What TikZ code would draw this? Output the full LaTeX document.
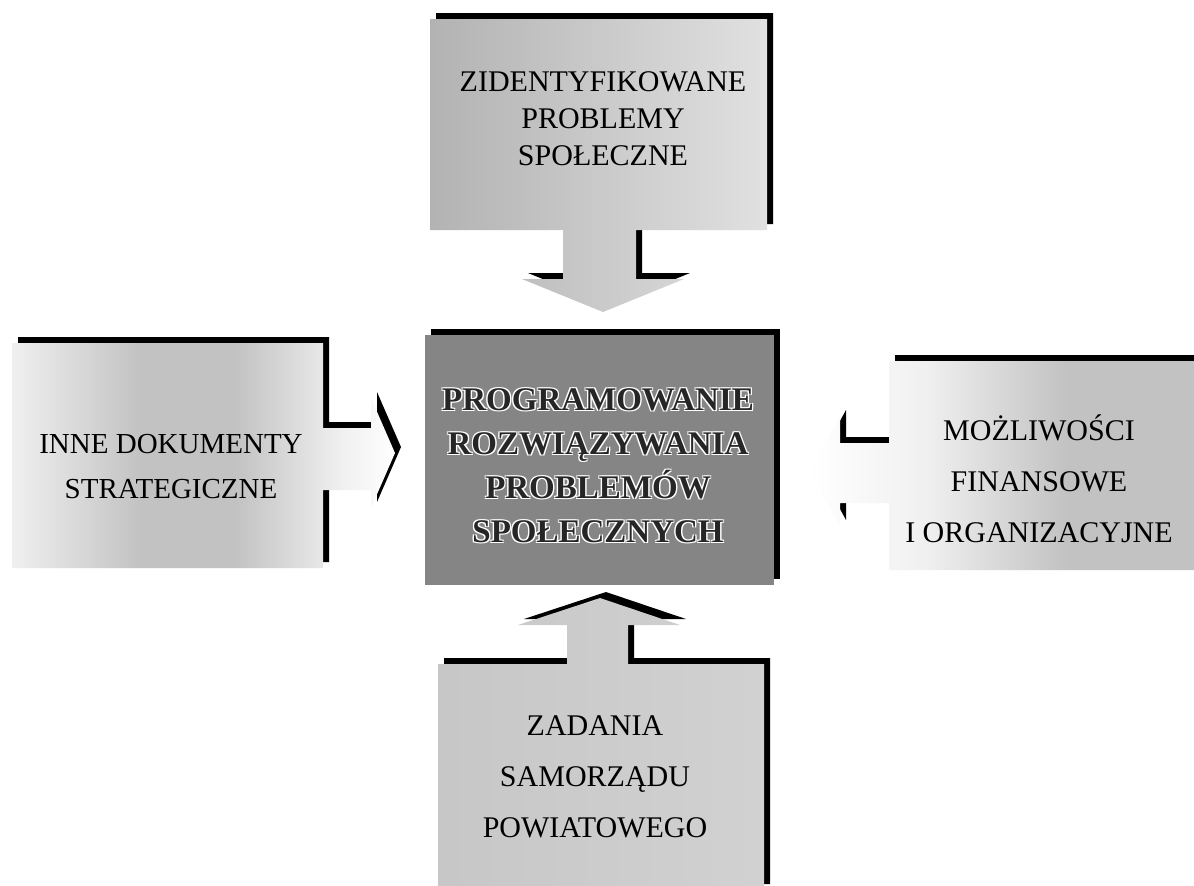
\documentclass[tikz,border=0pt]{standalone}
\usepackage{fontspec}
\setmainfont{Liberation Serif}
\pgfdeclarehorizontalshading{leftband}{100bp}{color(0bp)=(white); color(25bp)=(black!6); color(42bp)=(black!24); color(54bp)=(black!24); color(68bp)=(black!6); color(75bp)=(white); color(100bp)=(white)}
\pgfdeclarehorizontalshading{rightfade}{100bp}{color(0bp)=(white); color(25bp)=(white); color(40bp)=(black!6); color(58bp)=(black!24); color(100bp)=(black!24)}
\begin{document}
\begin{tikzpicture}[x=0.5pt,y=-0.5pt,
  shadowed/.style={preaction={fill=black, transform canvas={xshift=3pt,yshift=3pt}}},
  lbl/.style={align=center, inner sep=0pt, text=black},
  ctr/.style={align=center, inner sep=0pt, font=\fontsize{16.5}{22}\selectfont\bfseries}]
\useasboundingbox (0,0) rectangle (1194,885);
\clip (0,0) rectangle (1194,885);
\fill[white] (0,0) rectangle (1194,885);
% top shape: box with down arrow
\shade[shadowed, left color=black!30, right color=black!12]
  (430,19) -- (767,19) -- (767,230) -- (636,230) -- (636,279) -- (684,279)
  -- (603,312) -- (522,279) -- (563,279) -- (563,230) -- (430,230) -- cycle;
% left shape: box with right arrow
\shade[shadowed, shading=leftband]
  (12,343) -- (323,343) -- (323,428) -- (371,428) -- (371,398) -- (395,453)
  -- (371,508) -- (371,490) -- (323,490) -- (323,568) -- (12,568) -- cycle;
% right shape: box with left arrow
\shade[shadowed, shading=rightfade]
  (1200,361) -- (889,361) -- (889,443) -- (840,443) -- (840,416) -- (810,471)
  -- (840,526) -- (840,503) -- (889,503) -- (889,570) -- (1200,570) -- cycle;
% bottom shape: box with up arrow
\shade[shadowed, left color=black!22, right color=black!18]
  (438,664) -- (567,664) -- (567,625) -- (518,625) -- (600,598) -- (680,625)
  -- (628,625) -- (628,664) -- (764,664) -- (764,890) -- (438,890) -- cycle;
% centre box
\fill[shadowed, fill=black!48] (425,335) rectangle (774,585);
% labels
\node[lbl, font=\fontsize{15}{18.5}\selectfont] (top) at (603,119)
  {ZIDENTYFIKOWANE\\PROBLEMY\\SPOŁECZNE};
\node[lbl, font=\fontsize{14.5}{22.5}\selectfont] (left) at (171,467)
  {INNE DOKUMENTY\\STRATEGICZNE};
\node[lbl, font=\fontsize{15}{25.5}\selectfont] (right) at (1039,479)
  {MOŻLIWOŚCI\\FINANSOWE\\I ORGANIZACYJNE};
\node[lbl, font=\fontsize{15}{25.5}\selectfont] (bottom) at (595,777)
  {ZADANIA\\SAMORZĄDU\\POWIATOWEGO};
\node[ctr, text=white] (cw1) at (596.8,464.8) {PROGRAMOWANIE\\ROZWIĄZYWANIA\\PROBLEMÓW\\SPOŁECZNYCH};
\node[ctr, text=white] (cw2) at (599.2,464.8) {PROGRAMOWANIE\\ROZWIĄZYWANIA\\PROBLEMÓW\\SPOŁECZNYCH};
\node[ctr, text=white] (cw3) at (596.8,467.2) {PROGRAMOWANIE\\ROZWIĄZYWANIA\\PROBLEMÓW\\SPOŁECZNYCH};
\node[ctr, text=white] (cw4) at (599.2,467.2) {PROGRAMOWANIE\\ROZWIĄZYWANIA\\PROBLEMÓW\\SPOŁECZNYCH};
\node[ctr, text=black!85] (centre) at (598,466) {PROGRAMOWANIE\\ROZWIĄZYWANIA\\PROBLEMÓW\\SPOŁECZNYCH};
\end{tikzpicture}
\end{document}
